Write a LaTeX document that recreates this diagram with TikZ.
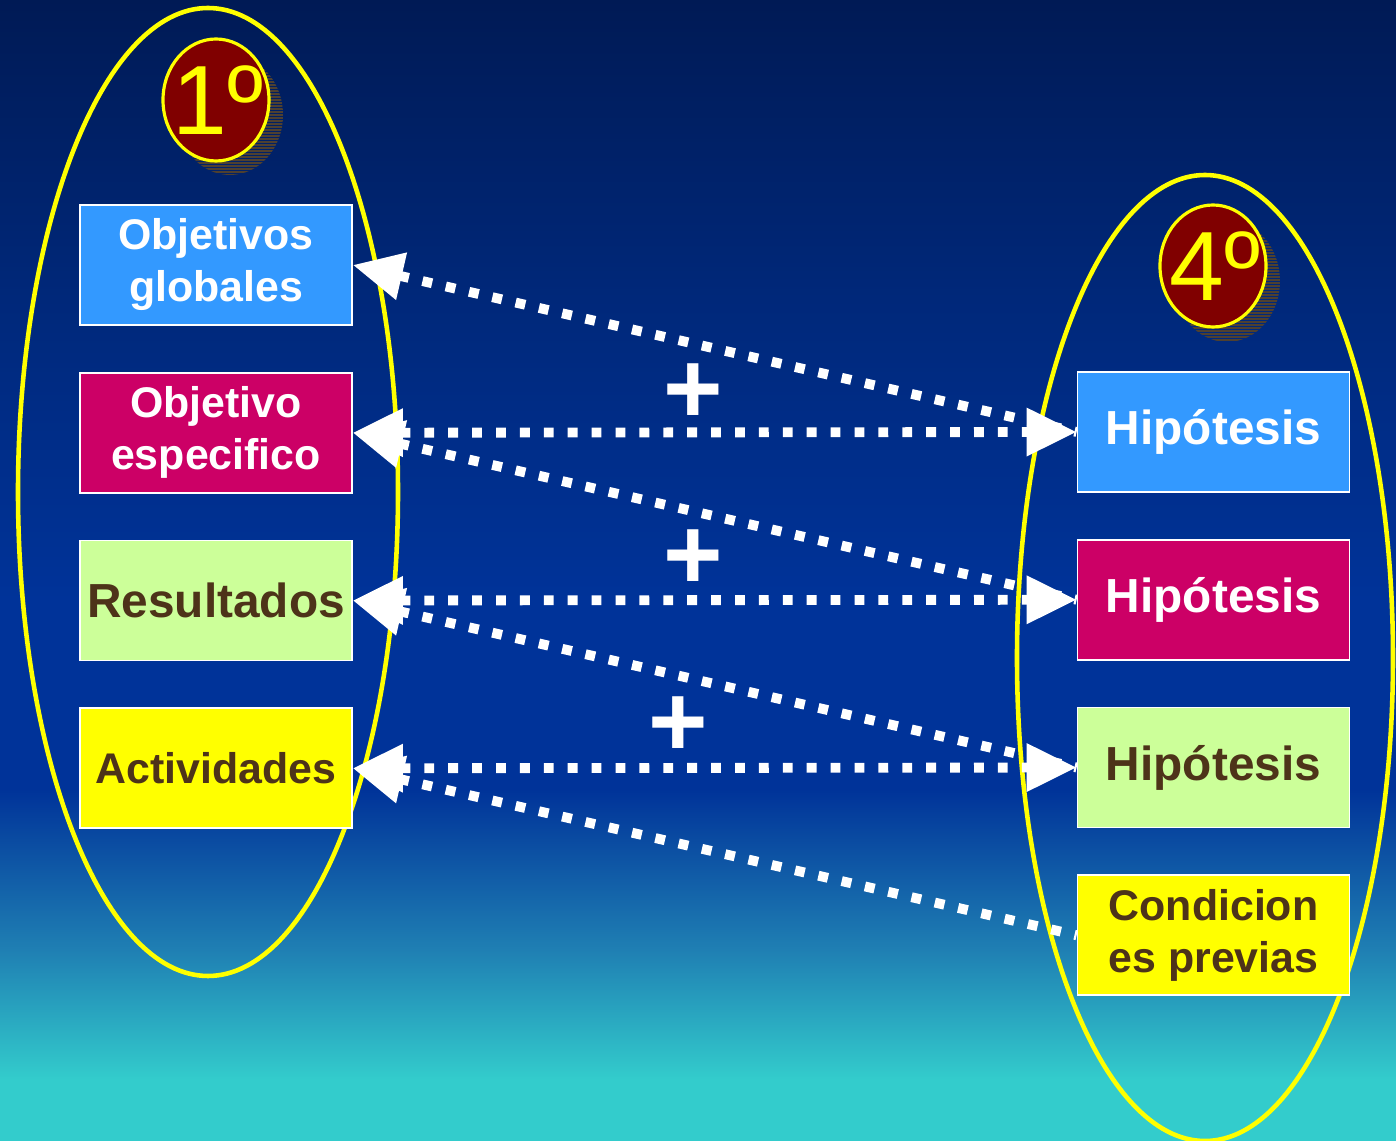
\documentclass[tikz,border=0pt]{standalone}
\usepackage{fontspec}
\setmainfont{Liberation Sans}
\usetikzlibrary{arrows.meta}
\usetikzlibrary{positioning}
\definecolor{mblue}{HTML}{3399FF}
\definecolor{mmagenta}{HTML}{CC0066}
\definecolor{mgreen}{HTML}{CCFF99}
\definecolor{myellow}{HTML}{FFFF00}
\definecolor{mbrown}{HTML}{4D3319}
\definecolor{mred}{HTML}{800000}
\definecolor{mshadow}{HTML}{4E4030}
\definecolor{bgtop}{HTML}{001A55}
\definecolor{bgup}{HTML}{00287A}
\definecolor{bgmid}{HTML}{003399}
\definecolor{bgtr}{HTML}{1F7FB3}
\definecolor{bgbot}{HTML}{33CCCC}
\pgfdeclareverticalshading{bgshade}{100bp}{color(0bp)=(bgbot); color(27.7bp)=(bgbot);
  color(33.4bp)=(bgtr); color(40.4bp)=(bgmid); color(48.7bp)=(bgmid);
  color(61.9bp)=(bgup); color(75bp)=(bgtop); color(100bp)=(bgtop)}
\tikzset{>={Triangle[length=0.5cm, width=0.46cm]},
         box/.style = {draw=white, line width=0.5pt, minimum width=2.72cm,
                       minimum height=1.20cm, inner sep=0pt, align=center,
                       font=\fontsize{12.2}{14.8}\selectfont\bfseries},
         bigtext/.style = {font=\fontsize{13.6}{15}\selectfont\bfseries},
         badgeback/.style = {draw=myellow, fill=mred, line width=0.9pt},
         badge/.style = {inner sep=0pt, text=myellow, font=\fontsize{28}{28}\selectfont},
         dotline/.style = {white, line width=2.8pt, dash pattern=on 2.8pt off 4pt},
         plus/.style = {text=white, inner sep=0pt, font=\fontsize{29}{29}\selectfont\bfseries},
         ring/.style = {myellow, line width=1.3pt}}

\begin{document}
\begin{tikzpicture}
      \useasboundingbox (0, 0) rectangle (13.96, -11.41);
      \shade [shading=bgshade] (0, 0) rectangle (13.96, -11.41);

      \draw [ring] (2.08, -4.92) ellipse (1.90 and 4.84);
      \draw [ring] (12.05, -6.58) ellipse (1.88 and 4.83);

      \begin{scope}
        \clip (2.30, -1.15) ellipse (0.53 and 0.60);
        \foreach \k in {0,...,44}
          \draw [mshadow, line width=0.5pt] (1.6, {-0.52-0.03*\k}) -- (2.9, {-0.52-0.03*\k});
      \end{scope}
      \begin{scope}
        \clip (12.27, -2.81) ellipse (0.53 and 0.61);
        \foreach \k in {0,...,44}
          \draw [mshadow, line width=0.5pt] (11.6, {-2.17-0.03*\k}) -- (12.9, {-2.17-0.03*\k});
      \end{scope}
      \draw [badgeback] (2.16, -1.00) ellipse (0.53 and 0.61);
      \draw [badgeback] (12.13, -2.66) ellipse (0.53 and 0.61);
      \node [badge] (b1) at (2.18, -1.00) {1º};
      \node [badge] (b4) at (12.15, -2.66) {4º};

      \node [box, fill=mblue, text=white] (og) at (2.16, -2.65) {Objetivos\\globales};
      \node [box, fill=mmagenta, text=white] (oe) [below=0.46cm of og] {Objetivo\\especifico};
      \node [box, bigtext, fill=mgreen, text=mbrown] (res) [below=0.46cm of oe] {Resultados};
      \node [box, fill=myellow, text=mbrown] (act) [below=0.46cm of res] {Actividades};

      \node [box, bigtext, fill=mblue, text=white] (h1) at (12.135, -4.32) {Hipótesis};
      \node [box, bigtext, fill=mmagenta, text=white] (h2) [below=0.46cm of h1] {Hipótesis};
      \node [box, bigtext, fill=mgreen, text=mbrown] (h3) [below=0.46cm of h2] {Hipótesis};
      \node [box, fill=myellow, text=mbrown] (cond) [below=0.46cm of h3] {Condicion\\es previas};

      \draw [dotline, <-] (og.east) -- (h1.west);
      \draw [dotline, <-] (oe.east) -- (h2.west);
      \draw [dotline, <-] (res.east) -- (h3.west);
      \draw [dotline, <-] (act.east) -- (cond.west);
      \draw [dotline, <->] (oe.east) -- (h1.west);
      \draw [dotline, <->] (res.east) -- (h2.west);
      \draw [dotline, <->] (act.east) -- (h3.west);

      \node [plus] (p1) at (6.93, -3.94) {+};
      \node [plus] (p2) at (6.93, -5.60) {+};
      \node [plus] (p3) at (6.78, -7.27) {+};
    \end{tikzpicture}
\end{document}
